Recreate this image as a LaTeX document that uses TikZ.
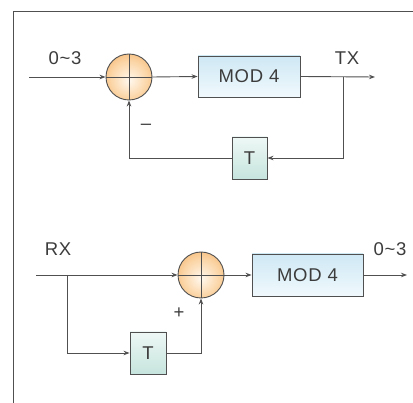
\documentclass[tikz,border=0pt]{standalone}
\usepackage{fontspec}
\setmainfont{Liberation Sans}[LetterSpace=4]
\usetikzlibrary{arrows.meta}
\definecolor{linec}{HTML}{505050}
\definecolor{textc}{HTML}{3C3C3C}
\definecolor{orin}{HTML}{FFF8EE}
\definecolor{ormid}{HTML}{FBD5A6}
\definecolor{orout}{HTML}{F2A655}
\definecolor{modtop}{HTML}{CFE8F4}
\definecolor{modbot}{HTML}{F0F9FD}
\definecolor{ttop}{HTML}{EEF8F6}
\definecolor{tbot}{HTML}{C6E4DD}
\pgfdeclareradialshading{sumball}{\pgfpoint{0bp}{-4bp}}{color(0bp)=(orin); color(20bp)=(ormid); color(40bp)=(orout); color(50bp)=(orout)}
\tikzset{
  wire/.style={draw=linec, line width=0.9pt},
  arr/.style={wire, -{Stealth[length=6pt,width=4.5pt]}},
  sumnode/.style={circle, minimum size=46pt, inner sep=0pt, draw=linec, line width=0.9pt, shading=sumball,
    path picture={\draw[linec, line width=0.9pt] (path picture bounding box.north) -- (path picture bounding box.south)
      (path picture bounding box.west) -- (path picture bounding box.east);}},
  modbox/.style={rectangle, draw=linec, line width=0.9pt, top color=modtop, bottom color=modbot, inner sep=0pt, font=\fontsize{18.5}{21}\selectfont\color{textc}},
  tbox/.style={rectangle, draw=linec, line width=0.9pt, top color=ttop, bottom color=tbot, inner sep=0pt, font=\fontsize{18.5}{21}\selectfont\color{textc}},
  lbl/.style={font=\fontsize{18.5}{21}\selectfont, text=textc, inner sep=0pt},
}
\begin{document}
\begin{tikzpicture}[x=1pt,y=-1pt]
\useasboundingbox (0,0) rectangle (413,403);
% frame
\draw[draw=linec, line width=0.9pt] (13,403) -- (13,11) -- (413,11);
% upper
\node[sumnode] (sum1) at (129,77) {};
\node[modbox, minimum width=102pt, minimum height=41pt] (mod1) at (249,76.5) {MOD 4};
\node[tbox, minimum width=35pt, minimum height=42pt] (t1) at (249.5,158) {T};
\coordinate (in1) at (29,77);
\coordinate (out1) at (375,77);
\coordinate (br1) at (343,77);
\coordinate (c1) at (343,158);
\coordinate (d1) at (129,158);
\draw[arr] (in1) -- (sum1.west);
\draw[arr] (sum1.east) -- (mod1.west);
\draw[arr] (mod1.east) -- (out1);
\draw[arr] (br1) -- (c1) -- (t1.east);
\draw[arr] (t1.west) -- (d1) -- (sum1.south);
\node[lbl] (l1) at (65,58) {0\textasciitilde3};
\node[lbl] (l2) at (347,58) {TX};
\node[lbl] (l3) at (146,127) {–};
% lower
\node[sumnode] (sum2) at (201,275) {};
\node[modbox, minimum width=111pt, minimum height=42pt] (mod2) at (307.5,275) {MOD 4};
\node[tbox, minimum width=36pt, minimum height=42pt] (t2) at (148,353) {T};
\coordinate (in2) at (36,275);
\coordinate (out2) at (407,275);
\coordinate (br2) at (67,275);
\coordinate (c2) at (67,353);
\coordinate (d2) at (201,353);
\draw[arr] (in2) -- (sum2.west);
\draw[arr] (sum2.east) -- (mod2.west);
\draw[arr] (mod2.east) -- (out2);
\draw[arr] (br2) -- (c2) -- (t2.west);
\draw[arr] (t2.east) -- (d2) -- (sum2.south);
\node[lbl] (l4) at (58,249) {RX};
\node[lbl] (l5) at (390,249) {0\textasciitilde3};
\node[lbl] (l6) at (179,313) {+};
\end{tikzpicture}
\end{document}
